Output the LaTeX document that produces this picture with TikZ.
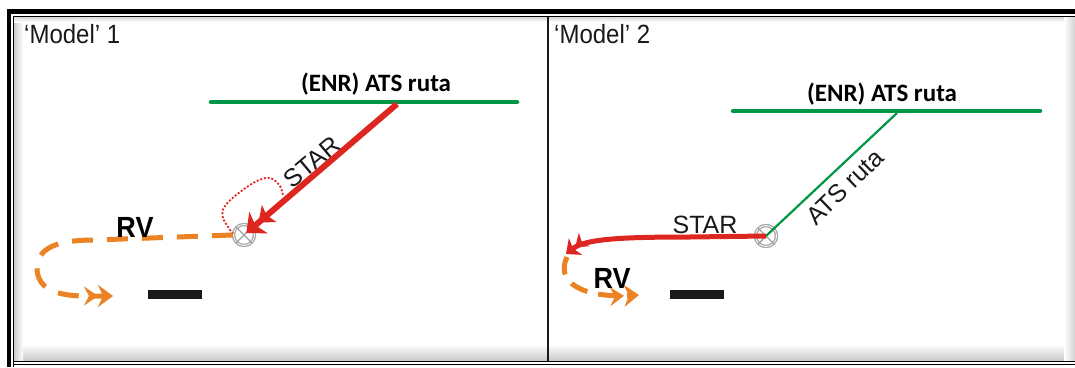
\documentclass[tikz,border=0pt]{standalone}
\usepackage{fontspec}
\setmainfont{Liberation Sans}
\newfontfamily\calib{Carlito}
\usetikzlibrary{arrows.meta}
\definecolor{rred}{RGB}{222,38,32}
\definecolor{rgreen}{RGB}{0,150,70}
\definecolor{rorange}{RGB}{235,130,35}
\begin{document}
\begin{tikzpicture}[x=1pt,y=-1pt,
  lbl/.style={inner sep=0pt, font=\fontsize{24}{24}\selectfont, text=black!90, yscale=1.1},
  slbl/.style={inner sep=0pt, font=\fontsize{25}{25}\selectfont, text=black!90},
  enr/.style={inner sep=0pt, font=\calib\bfseries\fontsize{25}{25}\selectfont},
  rv/.style={inner sep=0pt, font=\bfseries\fontsize{27}{27}\selectfont, text=black, yscale=1.08},
  wpt/.style={circle, draw=gray!70, double=white, double distance=0.8pt, line width=1.3pt, minimum size=21pt, inner sep=0pt},
  wx/.style={draw=gray!75, line width=1.4pt},
  barb/.tip={Stealth[length=14pt,width=22pt,inset=3pt]Stealth[length=16pt,width=28pt,inset=4pt]},
  sbarb/.tip={Stealth[length=11pt,width=17pt,inset=3pt]Stealth[length=12pt,width=21pt,inset=3pt]},
  obarb/.tip={Stealth[length=14pt,width=19pt,inset=5pt]Stealth[length=15pt,width=22pt,inset=5pt]},
  enrline/.style={draw=rgreen, line width=4.5pt, line cap=round},
  redarrow/.style={draw=rred, line width=6pt, -{barb}},
  orangedash/.style={draw=rorange, line width=5pt, dash pattern=on 21pt off 14pt, -{obarb}},
]
\useasboundingbox (0,0) rectangle (1075,367);
% frame shadows
\shade[top color=white, bottom color=gray!40] (14,344) rectangle (1075,360);
\shade[left color=gray!40, right color=white] (14,17) rectangle (23,360);
\shade[top color=gray!30, bottom color=white] (14,17) rectangle (1075,22);
\shade[left color=white, right color=gray!35] (1064,17) rectangle (1075,360);
% frame lines
\draw[line width=4.5pt] (9,9) -- (9,367);
\draw[line width=4.5pt] (6.75,11.5) -- (1075,11.5);
\draw[line width=1pt] (13.5,16.5) -- (13.5,367);
\draw[line width=1pt] (13,16.5) -- (1075,16.5);
\draw[line width=1pt] (13,361.5) -- (1075,361.5);
\draw[line width=1pt] (13,364) -- (1075,364);
\draw[line width=2.5pt, black!90] (548,17) -- (548,361);
% titles
\node[lbl, anchor=base west] (m1) at (24,43) {‘Model’ 1};
\node[lbl, anchor=base west] (m2) at (554,43) {‘Model’ 2};
% ===== Panel 1 =====
\coordinate (e1a) at (211,102);
\coordinate (e1b) at (517,102);
\draw[enrline] (e1a) -- (e1b);
\node[enr, anchor=base] (t1) at (376,91) {(ENR) ATS ruta};
\node[wpt] (w1) at (244,235) {};
\draw[wx] (w1.north west) -- (w1.south east) (w1.north east) -- (w1.south west);
\coordinate (s1) at (397,104);
\draw[redarrow, shorten >=3pt] (s1) -- (w1.center);
\node[slbl, rotate=40] (star1) at (312,162) {STAR};
\draw[rred, line width=1.8pt, dash pattern=on 2pt off 1.8pt] plot[smooth, tension=0.6] coordinates {(233,234) (223,218) (225,206) (240,192) (257,181) (270,178) (280,186) (283,196)};
\coordinate (o1a) at (95,240);
\coordinate (o1b) at (37,268);
\coordinate (o1c) at (113,296);
\draw[orangedash] (w1.west) -- (o1a) to[out=180,in=90] (o1b) to[out=-90,in=180] (o1c);
\node[rv, anchor=base] (rv1) at (135,237) {RV};
\fill[black!90] (148,290) rectangle (202,299);
% ===== Panel 2 =====
\coordinate (e2a) at (733,111);
\coordinate (e2b) at (1040,111);
\draw[enrline] (e2a) -- (e2b);
\node[enr, anchor=base] (t2) at (882,101) {(ENR) ATS ruta};
\node[wpt] (w2) at (766,236) {};
\draw[wx] (w2.north west) -- (w2.south east) (w2.north east) -- (w2.south west);
\coordinate (g2) at (897,113);
\draw[rgreen, line width=2.2pt] (g2) -- (w2.center);
\node[slbl, rotate=44] (ats2) at (845,187) {ATS ruta};
\coordinate (r2a) at (690,237);
\coordinate (r2b) at (566,254);
\draw[rred, line width=5pt, -{sbarb}] (w2.center) -- (r2a) .. controls (620,237) and (585,239) .. (r2b);
\node[slbl, anchor=base] (star2) at (705,233) {STAR};
\coordinate (o2a) at (567,257);
\coordinate (o2b) at (639,295);
\draw[orangedash, dash pattern=on 18pt off 11pt] (o2a) .. controls (555,282) and (582,298) .. (o2b);
\node[rv, anchor=base] (rv2) at (612,288) {RV};
\fill[black!90] (670,290) rectangle (724,299);
\end{tikzpicture}
\end{document}
